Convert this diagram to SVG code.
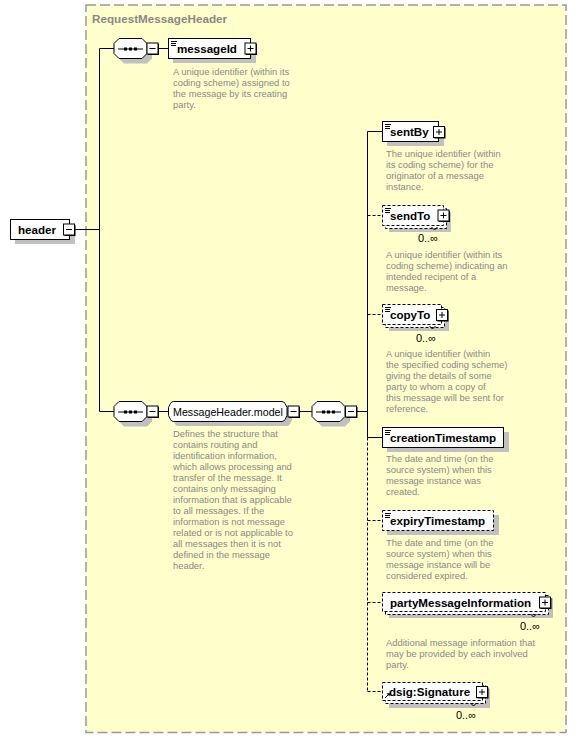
<svg xmlns="http://www.w3.org/2000/svg" width="576" height="739" viewBox="0 0 576 739">
<style>
.lbl{font-family:"Liberation Sans",Arial,sans-serif;font-size:11.6px;font-weight:bold;fill:#000}
.reg{font-family:"Liberation Sans",Arial,sans-serif;font-size:10.7px;fill:#000}
.occ{font-family:"Liberation Sans",Arial,sans-serif;font-size:11px;fill:#000;text-anchor:end}
.desc{font-family:"Liberation Sans",Arial,sans-serif;font-size:9.4px;fill:#888}
.title{font-family:"Liberation Sans",Arial,sans-serif;font-size:11.7px;font-weight:bold;fill:#888}
.box{fill:#fff;stroke:#000;stroke-width:1}
.dbox{fill:#fff;stroke:#000;stroke-width:1;stroke-dasharray:3,2}
.sh{fill:#c0c0c0}
.ln{stroke:#000;stroke-width:1;fill:none}
.dln{stroke:#000;stroke-width:1;fill:none;stroke-dasharray:3,2}
.ico{stroke:#000;stroke-width:1}
</style>
<defs>
<g id="plus">
<rect x="1" y="1" width="11" height="11" fill="#000"/>
<rect x="0" y="0" width="11" height="11" class="box"/>
<line x1="2.5" y1="5.5" x2="8.5" y2="5.5" class="ico"/>
<line x1="5.5" y1="2.5" x2="5.5" y2="8.5" class="ico"/>
</g>
<g id="minus">
<rect x="1" y="1" width="11" height="11" fill="#000"/>
<rect x="0" y="0" width="11" height="11" class="box"/>
<line x1="2.5" y1="5.5" x2="8.5" y2="5.5" class="ico"/>
</g>
<g id="seq">
<polygon points="10,5 33,5 38,10 38,20 33,25 10,25 5,20 5,10" class="sh"/>
<polygon points="5,0 28,0 33,5 33,15 28,20 5,20 0,15 0,5" class="box"/>
<line x1="4" y1="10.5" x2="29" y2="10.5" class="ico"/>
<rect x="10" y="9" width="3" height="3" fill="#000"/>
<rect x="15" y="9" width="3" height="3" fill="#000"/>
<rect x="20" y="9" width="3" height="3" fill="#000"/>
</g>
<g id="doc">
<line x1="2" y1="2.5" x2="8" y2="2.5" class="ico"/>
<line x1="2" y1="4.5" x2="7" y2="4.5" class="ico"/>
<line x1="2" y1="6.5" x2="7" y2="6.5" class="ico"/>
</g>
</defs>

<rect x="86" y="5" width="480" height="727.5" fill="#ffffcc" stroke="#999" stroke-width="1.5" stroke-dasharray="10,4"/>
<text class="title" x="92" y="23">RequestMessageHeader</text>

<g id="connectors">
<line x1="74" y1="229.5" x2="99.5" y2="229.5" class="ln"/>
<line x1="99.5" y1="48.5" x2="99.5" y2="411.5" class="ln"/>
<line x1="99.5" y1="48.5" x2="114" y2="48.5" class="ln"/>
<line x1="99.5" y1="411.5" x2="114" y2="411.5" class="ln"/>
<line x1="158" y1="48.5" x2="168" y2="48.5" class="ln"/>
<line x1="158" y1="411.5" x2="168" y2="411.5" class="ln"/>
<line x1="299" y1="411.5" x2="312" y2="411.5" class="ln"/>
<line x1="357" y1="411.5" x2="367.5" y2="411.5" class="ln"/>
<line x1="367.5" y1="131.5" x2="367.5" y2="437.5" class="ln"/>
<line x1="367.5" y1="437.5" x2="367.5" y2="691.5" class="dln"/>
<line x1="367.5" y1="131.5" x2="382" y2="131.5" class="ln"/>
<line x1="367.5" y1="215.5" x2="382" y2="215.5" class="dln"/>
<line x1="367.5" y1="314.5" x2="382" y2="314.5" class="dln"/>
<line x1="367.5" y1="437.5" x2="382" y2="437.5" class="ln"/>
<line x1="367.5" y1="520.5" x2="382" y2="520.5" class="dln"/>
<line x1="367.5" y1="602.5" x2="382" y2="602.5" class="dln"/>
<line x1="367.5" y1="691.5" x2="382" y2="691.5" class="dln"/>
</g>

<g id="header">
<rect x="15" y="224" width="60" height="20" class="sh"/>
<rect x="10.5" y="219.5" width="59" height="20" class="box"/>
<text class="lbl" x="18" y="233.5">header</text>
<use href="#minus" x="63.5" y="224"/>
</g>

<g id="seq1">
<use href="#seq" x="114" y="38.5"/>
<use href="#minus" x="147" y="43"/>
</g>

<g id="messageId">
<rect x="173" y="43" width="83" height="20" class="sh"/>
<rect x="168.5" y="38.5" width="82" height="20" class="box"/>
<use href="#doc" x="169" y="39"/>
<text class="lbl" x="177" y="52.5">messageId</text>
<use href="#plus" x="245" y="43"/>
<text class="desc"><tspan x="173" y="74.5">A unique identifier (within its</tspan><tspan x="173" y="85.5">coding scheme) assigned to</tspan><tspan x="173" y="96.5">the message by its creating</tspan><tspan x="173" y="107.5">party.</tspan></text>
</g>

<g id="seq2">
<use href="#seq" x="114" y="401.5"/>
<use href="#minus" x="147" y="406"/>
</g>

<g id="MessageHeaderModel">
<path d="M178,406 H287 Q289,406 290,408 L292,412 V420 L290,424 Q289,426 287,426 H178 Q176,426 175,424 L173,420 V412 L175,408 Q176,406 178,406 Z" class="sh"/>
<path d="M173.5,401.5 H282 Q284,401.5 285,403.5 L287,407.5 V415.5 L285,419.5 Q284,421.5 282,421.5 H173.5 Q171.5,421.5 170.5,419.5 L168.5,415.5 V407.5 L170.5,403.5 Q171.5,401.5 173.5,401.5 Z" class="box"/>
<text class="reg" x="173" y="415.5">MessageHeader.model</text>
<use href="#minus" x="288" y="406"/>
<text class="desc"><tspan x="173" y="436.5">Defines the structure that</tspan><tspan x="173" y="447.5">contains routing and</tspan><tspan x="173" y="458.5">identification information,</tspan><tspan x="173" y="469.5">which allows processing and</tspan><tspan x="173" y="480.5">transfer of the message. It</tspan><tspan x="173" y="491.5">contains only messaging</tspan><tspan x="173" y="502.5">information that is applicable</tspan><tspan x="173" y="513.5">to all messages. If the</tspan><tspan x="173" y="524.5">information is not message</tspan><tspan x="173" y="535.5">related or is not applicable to</tspan><tspan x="173" y="546.5">all messages then it is not</tspan><tspan x="173" y="557.5">defined in the message</tspan><tspan x="173" y="568.5">header.</tspan></text>
</g>

<g id="seq3">
<use href="#seq" x="312" y="401.5"/>
<use href="#minus" x="345.5" y="406"/>
</g>

<g id="sentBy">
<rect x="387" y="126" width="57" height="20" class="sh"/>
<rect x="382.5" y="121.5" width="56" height="20" class="box"/>
<use href="#doc" x="383" y="122"/>
<text class="lbl" x="390" y="135.5">sentBy</text>
<use href="#plus" x="433.5" y="126.5"/>
<text class="desc"><tspan x="386" y="156.5">The unique identifier (within</tspan><tspan x="386" y="167.5">its coding scheme) for the</tspan><tspan x="386" y="178.5">originator of a message</tspan><tspan x="386" y="189.5">instance.</tspan></text>
</g>

<g id="sendTo">
<rect x="389" y="212" width="62" height="20" class="sh"/>
<rect x="385.5" y="208.5" width="61" height="20" class="dbox"/>
<rect x="382.5" y="205.5" width="61" height="20" class="dbox"/>
<use href="#doc" x="383" y="206"/>
<text class="lbl" x="390" y="219.5">sendTo</text>
<use href="#plus" x="438" y="210"/>
<polyline points="431.5,227 434.5,230 437.5,227" class="ln"/>
<text class="occ" x="438" y="242">0..∞</text>
<text class="desc"><tspan x="386" y="257.5">A unique identifier (within its</tspan><tspan x="386" y="268.5">coding scheme) indicating an</tspan><tspan x="386" y="279.5">intended recipent of a</tspan><tspan x="386" y="290.5">message.</tspan></text>
</g>

<g id="copyTo">
<rect x="389" y="311" width="60" height="20" class="sh"/>
<rect x="385.5" y="307.5" width="59" height="20" class="dbox"/>
<rect x="382.5" y="304.5" width="59" height="20" class="dbox"/>
<use href="#doc" x="383" y="305"/>
<text class="lbl" x="390" y="318.5">copyTo</text>
<use href="#plus" x="436.5" y="309.5"/>
<polyline points="429.5,326 432.5,329 435.5,326" class="ln"/>
<text class="occ" x="436" y="342">0..∞</text>
<text class="desc"><tspan x="386" y="356.5">A unique identifier (within</tspan><tspan x="386" y="367.5">the specified coding scheme)</tspan><tspan x="386" y="378.5">giving the details of some</tspan><tspan x="386" y="389.5">party to whom a copy of</tspan><tspan x="386" y="400.5">this message will be sent for</tspan><tspan x="386" y="411.5">reference.</tspan></text>
</g>

<g id="creationTimestamp">
<rect x="387" y="432" width="122" height="20" class="sh"/>
<rect x="382.5" y="427.5" width="121" height="20" class="box"/>
<use href="#doc" x="383" y="428"/>
<text class="lbl" x="390" y="441.5">creationTimestamp</text>
<text class="desc"><tspan x="386" y="461.5">The date and time (on the</tspan><tspan x="386" y="472.5">source system) when this</tspan><tspan x="386" y="483.5">message instance was</tspan><tspan x="386" y="494.5">created.</tspan></text>
</g>

<g id="expiryTimestamp">
<rect x="387" y="515" width="112" height="20" class="sh"/>
<rect x="382.5" y="510.5" width="111" height="20" class="dbox"/>
<use href="#doc" x="383" y="511"/>
<text class="lbl" x="390" y="524.5">expiryTimestamp</text>
<text class="desc"><tspan x="386" y="545.5">The date and time (on the</tspan><tspan x="386" y="556.5">source system) when this</tspan><tspan x="386" y="567.5">message instance will be</tspan><tspan x="386" y="578.5">considered expired.</tspan></text>
</g>

<g id="partyMessageInformation">
<rect x="389" y="598" width="164" height="20" class="sh"/>
<rect x="385.5" y="595.5" width="163" height="19" class="dbox"/>
<rect x="382.5" y="592.5" width="163" height="19" class="dbox"/>
<text class="lbl" x="390" y="606.5">partyMessageInformation</text>
<use href="#plus" x="539.5" y="597"/>
<polyline points="530.5,614 533.5,617 536.5,614" class="ln"/>
<text class="occ" x="540" y="630">0..∞</text>
<text class="desc"><tspan x="386" y="645.5">Additional message information that</tspan><tspan x="386" y="656.5">may be provided by each involved</tspan><tspan x="386" y="667.5">party.</tspan></text>
</g>

<g id="dsigSignature">
<rect x="389" y="689" width="101" height="19" class="sh"/>
<rect x="385.5" y="685.5" width="100" height="18" class="dbox"/>
<rect x="382.5" y="682.5" width="100" height="18" class="dbox"/>
<line x1="385" y1="698" x2="389" y2="694" class="ico"/>
<polygon points="390,693 386.5,693.5 389.5,696.5" fill="#000"/>
<text class="lbl" x="389" y="696">dsig:Signature</text>
<use href="#plus" x="476.5" y="686.5"/>
<polyline points="470.5,703 473.5,706 476.5,703" class="ln"/>
<text class="occ" x="476" y="719">0..∞</text>
</g>
</svg>
